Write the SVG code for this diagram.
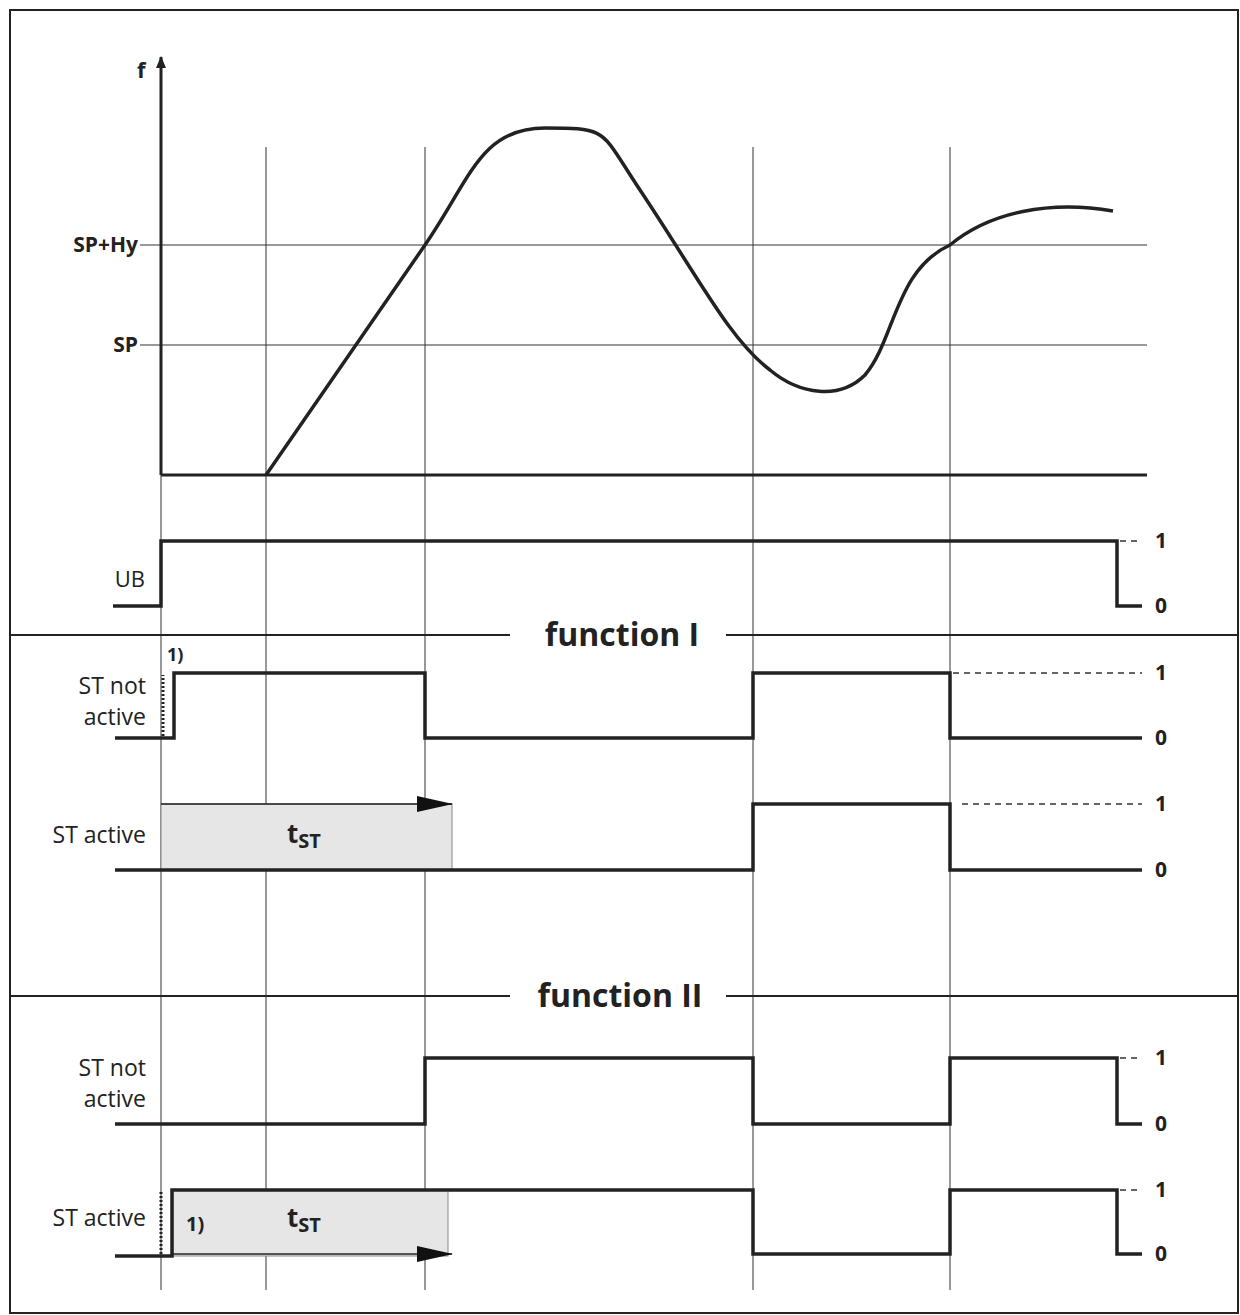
<svg xmlns="http://www.w3.org/2000/svg" width="1240" height="1315" viewBox="0 0 1240 1315">
<style>
.t{font-family:"Open Sans","Liberation Sans",sans-serif;fill:#222}
.b{font-weight:bold}
.thin{stroke:#333;stroke-width:1;fill:none}
.sig{stroke:#222;stroke-width:3.5;fill:none}
.dash{stroke:#333;stroke-width:1.5;stroke-dasharray:6,5;fill:none}
.dot{stroke:#222;stroke-width:3;stroke-dasharray:2,2;fill:none}
.box{fill:#e6e6e6;stroke:#888;stroke-width:1}
</style>
<defs><marker id="ah" markerWidth="12" markerHeight="10" refX="11" refY="5" orient="auto" markerUnits="userSpaceOnUse"><path d="M0,0 L12,5 L0,10 Z" fill="#222"/></marker>
<marker id="big" markerWidth="36" markerHeight="16" refX="35" refY="8" orient="auto" markerUnits="userSpaceOnUse"><path d="M0,0 L36,8 L0,16 Z" fill="#111"/></marker></defs>
<rect x="10" y="10" width="1228" height="1303" fill="#fff" stroke="#222" stroke-width="2"/>
<g id="grid">
<line class="thin" x1="161" y1="475" x2="161" y2="1290"/>
<line class="thin" x1="266" y1="147" x2="266" y2="1290"/>
<line class="thin" x1="425" y1="147" x2="425" y2="1290"/>
<line class="thin" x1="753" y1="147" x2="753" y2="1290"/>
<line class="thin" x1="950" y1="147" x2="950" y2="1290"/>
<line class="thin" x1="140" y1="245" x2="1147" y2="245"/>
<line class="thin" x1="140" y1="345" x2="1147" y2="345"/>
<line stroke="#222" stroke-width="2" x1="10" y1="635" x2="510" y2="635"/>
<line stroke="#222" stroke-width="2" x1="726" y1="635" x2="1238" y2="635"/>
<line stroke="#222" stroke-width="2" x1="10" y1="996" x2="510" y2="996"/>
<line stroke="#222" stroke-width="2" x1="726" y1="996" x2="1238" y2="996"/>
</g>
<g id="boxes">
<rect class="box" x="161" y="804" width="291" height="66"/>
<rect class="box" x="173" y="1190" width="275" height="66"/>
</g>
<g id="connectors">
<line stroke="#222" stroke-width="3" x1="161" y1="475" x2="161" y2="57" marker-end="url(#ah)"/>
<line stroke="#222" stroke-width="3" x1="161" y1="475" x2="1147" y2="475"/>
<path class="sig" d="M266,475 L425,245 C470,180 480,128 545,128 C610,128 600,130 640,190 C700,280 730,340 770,370 C800,395 840,400 865,375 C895,340 895,270 950,245 C990,212 1050,200 1113,211"/>
<path class="sig" d="M113,606 H161 V541 H1117 V606 H1142"/>
<line class="dash" x1="1120" y1="541" x2="1142" y2="541"/>
<path class="sig" d="M115,738 H174 V673 H425 V738 H753 V673 H950 V738 H1142"/>
<line class="dot" x1="163" y1="736" x2="163" y2="675"/>
<line class="dash" x1="953" y1="673" x2="1142" y2="673" stroke-width="1"/>
<path class="sig" d="M115,870 H753 V804 H950 V870 H1142"/>
<line class="dash" x1="962" y1="804" x2="1142" y2="804"/>
<line stroke="#222" stroke-width="1.5" x1="161" y1="804" x2="452" y2="804" marker-end="url(#big)"/>
<path class="sig" d="M115,1124 H425 V1058 H753 V1124 H950 V1058 H1117 V1124 H1142"/>
<line class="dash" x1="1120" y1="1058" x2="1142" y2="1058"/>
<path class="sig" d="M115,1256 H172 V1190 H753 V1254 H950 V1190 H1117 V1254 H1142"/>
<line class="dash" x1="1120" y1="1190" x2="1142" y2="1190"/>
<line class="dot" x1="161" y1="1254" x2="161" y2="1192"/>
<line stroke="#222" stroke-width="1.5" x1="173" y1="1254" x2="452" y2="1254" marker-end="url(#big)"/>
</g>
<g id="labels">
<text class="t b" x="137" y="78" font-size="22">f</text>
<text class="t b" x="138" y="252" font-size="21" text-anchor="end">SP+Hy</text>
<text class="t b" x="138" y="352" font-size="21" text-anchor="end">SP</text>
<text class="t" x="145" y="587" font-size="22" text-anchor="end">UB</text>
<text class="t b" x="622" y="646" font-size="32" text-anchor="middle">function I</text>
<text class="t b" x="620" y="1007" font-size="32" text-anchor="middle">function II</text>
<text class="t b" x="167" y="661" font-size="18">1)</text>
<text class="t" x="146" y="694" font-size="23" text-anchor="end">ST not</text>
<text class="t" x="146" y="725" font-size="23" text-anchor="end">active</text>
<text class="t" x="146" y="843" font-size="23" text-anchor="end">ST active</text>
<text class="t" x="146" y="1076" font-size="23" text-anchor="end">ST not</text>
<text class="t" x="146" y="1107" font-size="23" text-anchor="end">active</text>
<text class="t" x="146" y="1226" font-size="23" text-anchor="end">ST active</text>
<text class="t b" x="186" y="1231" font-size="20">1)</text>
<text class="t b" x="287" y="843" font-size="26">t<tspan font-size="20" dy="5">ST</tspan></text>
<text class="t b" x="287" y="1227" font-size="26">t<tspan font-size="20" dy="5">ST</tspan></text>
<g class="t b" font-size="21">
<text x="1155" y="548">1</text><text x="1155" y="613">0</text>
<text x="1155" y="680">1</text><text x="1155" y="745">0</text>
<text x="1155" y="811">1</text><text x="1155" y="877">0</text>
<text x="1155" y="1065">1</text><text x="1155" y="1131">0</text>
<text x="1155" y="1197">1</text><text x="1155" y="1261">0</text>
</g>
</g>
</svg>
